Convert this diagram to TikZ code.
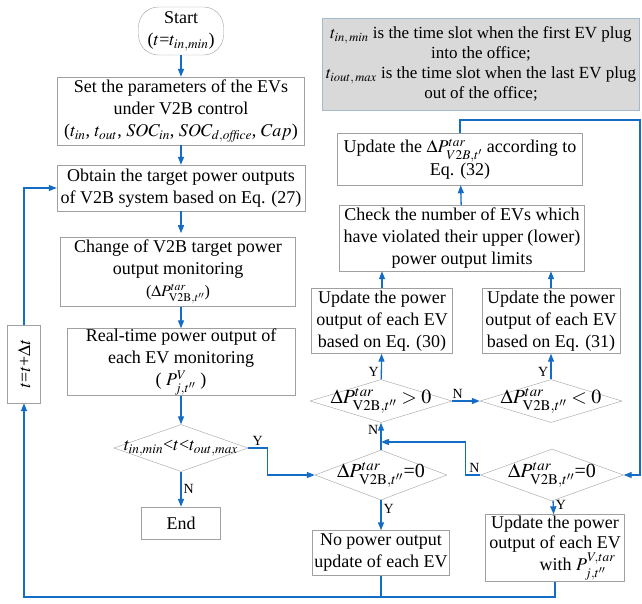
\documentclass[tikz,border=0pt]{standalone}
\usepackage{mathptmx}
\usepackage{fontspec}
\setmainfont{Liberation Serif}
\usetikzlibrary{shapes.geometric,arrows.meta}
\definecolor{flowblue}{RGB}{20,108,196}
\definecolor{boxgray}{RGB}{160,160,160}
\definecolor{notegray}{RGB}{217,217,217}
\definecolor{noteedge}{RGB}{165,185,205}
\tikzset{every node/.style={inner sep=0pt,align=center},
  box/.style={draw=boxgray,fill=white,font=\fontsize{18}{22}\selectfont},
  dia/.style={diamond,aspect=3,inner sep=-8pt,draw=boxgray,font=\fontsize{20}{22}\selectfont},
  flow/.style={draw=flowblue,line width=1.3pt,-{Triangle[length=8pt,width=6pt]}},
  flowline/.style={draw=flowblue,line width=1.3pt},
  yn/.style={font=\fontsize{14}{16}\selectfont,inner sep=2pt}}

\begin{document}
\begin{tikzpicture}[x=1pt,y=-1pt]
\useasboundingbox (0,0) rectangle (642,603);
      % left column
      \node[box,rounded corners=20pt,minimum width=85,minimum height=48] (start) at (181,31) {Start\\($t$=$t_{in,min}$)};
      \node[box,minimum width=247,minimum height=68] (set) at (181,111) {Set the parameters of the EVs\\under V2B control\\($t_{in}$, $t_{out}$, $SOC_{in}$, $SOC_{d,\mathit{office}}$, $Cap$)};
      \node[box,minimum width=248,minimum height=46] (obtain) at (181,188) {Obtain the target power outputs\\of V2B system based on Eq. (27)};
      \node[box,minimum width=235,minimum height=69] (change) at (178,272) {Change of V2B target power\\output monitoring\\{\fontsize{16}{18}\selectfont($\Delta P^{tar}_{\mathrm{V2B},t''}$)}};
      \node[box,minimum width=228,minimum height=67] (real) at (181,362) {Real-time power output of\\each EV monitoring\\( $P^{V}_{j,t''}$ )};
      \node[dia,font=\fontsize{18}{20}\selectfont,minimum width=134,minimum height=47] (cond) at (181,448) {$t_{in,min}$<$t$<$t_{out,max}$};
      \node[box,minimum width=79,minimum height=32] (end) at (181,523) {End};
      \node[box,minimum width=33,minimum height=78] (inc) at (24,364) {\rotatebox{90}{$t$=$t$+$\Delta t$}};
      % right part
      \node[draw=noteedge,fill=notegray,minimum width=317,minimum height=92,font=\fontsize{17}{20}\selectfont] (note) at (481,64)
        {$t_{in,\,min}$ is the time slot when the first EV plug\\into the office;\\$t_{iout,\,max}$ is the time slot when the last EV plug\\out of the office;};
      \node[box,minimum width=245,minimum height=52,font=\fontsize{18}{21}\selectfont] (upd) at (460,159) {Update the $\Delta P^{tar}_{V2B,t'}$ according to\\Eq. (32)};
      \node[box,minimum width=245,minimum height=66] (check) at (462,238) {Check the number of EVs which\\have violated their upper (lower)\\power output limits};
      \node[box,minimum width=141,minimum height=65] (upa) at (382,321) {Update the power\\output of each EV\\based on Eq. (30)};
      \node[box,minimum width=138,minimum height=65] (upb) at (551,321) {Update the power\\output of each EV\\based on Eq. (31)};
      \node[dia,minimum width=142,minimum height=43] (gtz) at (381,401) {$\Delta P^{tar}_{\mathrm{V2B},t''}>0$};
      \node[dia,minimum width=142,minimum height=43] (ltz) at (551,401) {$\Delta P^{tar}_{\mathrm{V2B},t''}<0$};
      \node[dia,minimum width=132,minimum height=50] (eqa) at (381,475) {$\Delta P^{tar}_{\mathrm{V2B},t''}$=0};
      \node[dia,minimum width=143,minimum height=52] (eqb) at (552,475) {$\Delta P^{tar}_{\mathrm{V2B},t''}$=0};
      \node[box,minimum width=137,minimum height=45] (nop) at (381,553) {No power output\\update of each EV};
      \node[box,minimum width=139,minimum height=67,font=\fontsize{18}{20}\selectfont] (upc) at (555,548) {Update the power\\output of each EV\\\hspace*{2.5em}with $P^{V,tar}_{j,t''}$\rule[-6pt]{0pt}{6pt}};
      \coordinate (rt) at (640,120);
      \coordinate (jn) at (381,442);
      \coordinate (lp) at (24,597);

\foreach \a/\b in {start/set,set/obtain,real/cond,check/upd}
  \draw[flow] (\a) -- (\b);
\draw[flow] (obtain.south -| change.north) ++(3,0) -- ++(0,22);
\draw[flow] (change.south -| real.north) -- (real.north);
\draw[flow] (cond) -- node[yn,right] {N} (end);
\draw[flow] (cond.east) -- node[yn,above,pos=0.5] {Y} ++(19,0) |- (eqa.west);
\draw[flow] (eqa) -- node[yn,right,pos=0.3] {Y} (nop);
\draw[flow] (eqa) -- node[yn,left,pos=0.75] {N} (gtz);
\draw[flow] (gtz) -- node[yn,left,pos=0.3] {Y} (upa);
\draw[flow] (ltz) -- node[yn,left,pos=0.3] {Y} (upb);
\draw[flow] (gtz.east) -- node[yn,above,pos=0.2] {N} (ltz.west);
\draw[flow] (upa.north) -- (upa.north |- check.south);
\draw[flow] (upb.north) -- (upb.north |- check.south);
\draw[flow] (upd.north) |- (rt) |- (eqb.east);
\draw[flow] (eqb.west) -- node[yn,above,pos=0.4] {N} ++(-15,0) |- (jn);
\draw[flow] (eqb) -- node[yn,right,pos=0.3] {Y} (upc);
\draw[flowline] (nop.south) -- (nop.south |- lp);
\draw[flow] (upc.south) |- (lp) -- (inc.south);
\draw[flow] (inc.north) |- (obtain.west);
    \end{tikzpicture}
\end{document}
